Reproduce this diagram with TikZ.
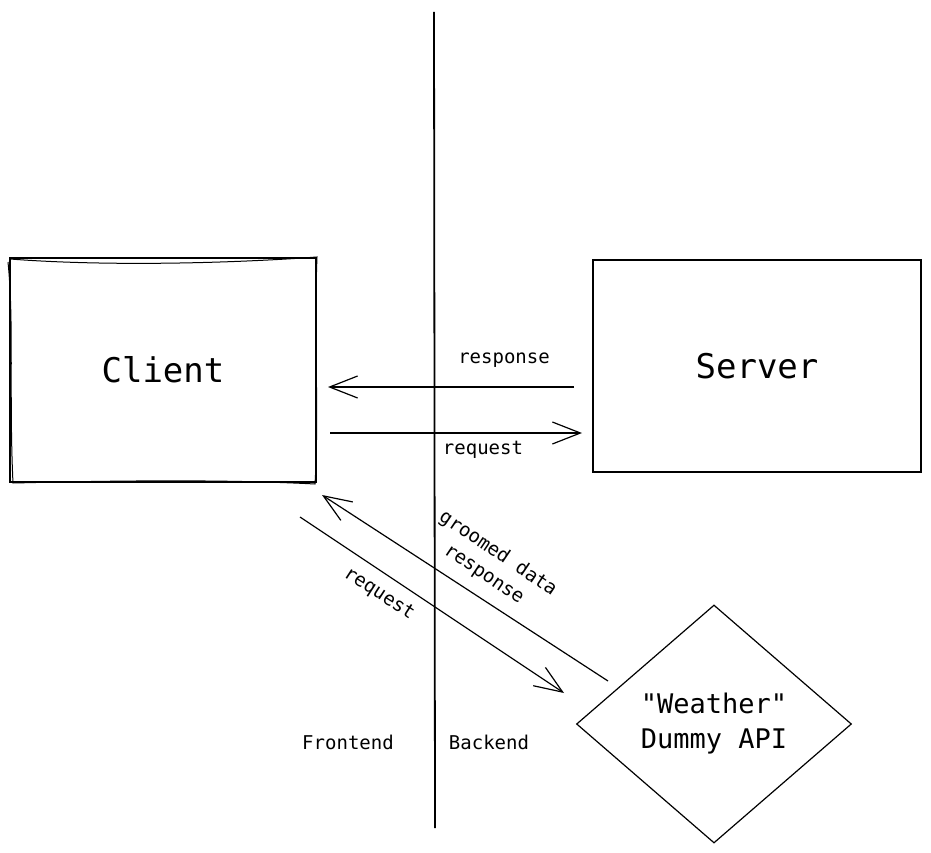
\documentclass[tikz,border=0pt]{standalone}
\usepackage{fontspec}
\newfontfamily\mono{DejaVu Sans Mono}
\usetikzlibrary{arrows.meta,shapes.geometric}
\begin{document}
\begin{tikzpicture}[x=1pt,y=-1pt,
  box/.style={draw, line width=1.2pt, inner sep=0pt},
  conn/.style={line width=1.2pt, -{Straight Barb[length=28pt,width=22pt]}},
  divider/.style={line width=1.8pt},
  sketch/.style={line width=1pt},
  big/.style={font=\mono\fontsize{34}{40}\selectfont},
  small/.style={font=\mono\fontsize{19}{23}\selectfont},
  rotlabel/.style={font=\mono\fontsize{19}{25}\selectfont},
  mid/.style={font=\mono\fontsize{27}{35}\selectfont},
]
\useasboundingbox (0,0) rectangle (931,853);
% divider
\coordinate (dtop) at (434,12);
\coordinate (dbot) at (435,828);
\draw[divider] (dtop) -- (dbot);
% nodes
\node[box, minimum width=306pt, minimum height=224pt, big] (client) at (163,370) {Client};
\draw[sketch] (10,259) .. controls (100,266) and (220,264) .. (317,257)
  .. controls (314,330) and (319,420) .. (315,484)
  .. controls (220,479) and (100,481) .. (13,483)
  .. controls (9,400) and (14,320) .. (8,262);
\node[box, minimum width=328pt, minimum height=212pt, big] (server) at (757,366) {Server};
\node[diamond, draw, line width=1.2pt, minimum width=275pt, minimum height=238pt, inner sep=0pt, mid, align=center] (api) at (714,724) {"Weather"\\Dummy API};
% arrow endpoints
\coordinate (r1s) at (574,387);
\coordinate (r1e) at (328,387);
\coordinate (q1s) at (330,433);
\coordinate (q1e) at (582,433);
\coordinate (gs) at (608,681);
\coordinate (ge) at (322,495);
\coordinate (q2s) at (300,517);
\coordinate (q2e) at (564,693);
\draw[conn] (r1s) -- (r1e);
\draw[conn] (q1s) -- (q1e);
\draw[conn] (gs) -- (ge);
\draw[conn] (q2s) -- (q2e);
% labels
\node[small] (resp) at (504,360) {response};
\node[small] (req) at (483,450) {request};
\node[rotlabel, rotate=-34, align=center] (groomed) at (491,564) {groomed data\\response};
\node[small, rotate=-33] (req2) at (379,594) {request};
\node[small] (fe) at (348,742) {Frontend};
\node[small] (be) at (489,742) {Backend};
\end{tikzpicture}
\end{document}
